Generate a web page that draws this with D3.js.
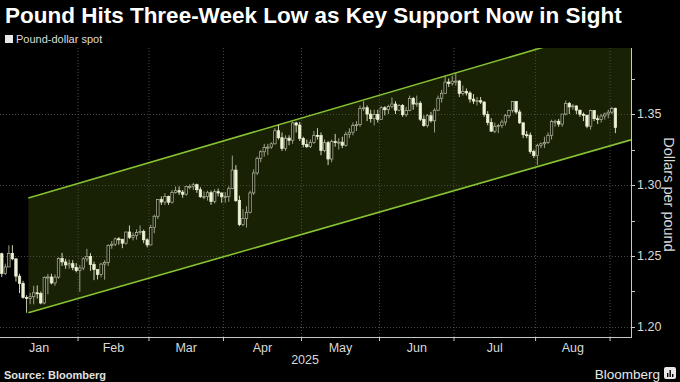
<!DOCTYPE html>
<html>
<head>
<meta charset="utf-8">
<script src="https://cdn.jsdelivr.net/npm/d3@7"></script>
<style>
  body { margin: 0; background: #000; }
  svg { display: block; }
  text { font-family: "Liberation Sans", Arial, sans-serif; }
</style>
</head>
<body>
<svg id="chart" width="680" height="382"></svg>
<script>
// ---- data (GBP/USD daily, Jan 2 – Sep 2 2025, weekdays) ----
const firstDay = "2025-01-02";
const lastDay = "2025-09-02";
const firstOpen = 1.2516;

const closes = [
  1.2376,1.2423,1.2518,1.2480,1.2358,1.2307,1.2208,1.2201,1.2213,1.2241,1.2236,1.2169,1.2350,1.2352,1.2310,1.2351,1.2483,1.2458,1.2437,1.2446,1.2420,1.2398,
  1.2415,1.2480,1.2497,1.2440,1.2404,1.2370,1.2443,1.2455,1.2575,1.2583,1.2621,1.2618,1.2590,1.2669,1.2632,1.2645,1.2666,1.2673,1.2614,1.2578,
  1.2700,1.2780,1.2897,1.2880,1.2918,1.2879,1.2947,1.2960,1.2950,1.2935,1.2990,1.2990,1.3002,1.2967,1.2917,1.2918,1.2946,1.2884,1.2953,1.2944,1.2917,
  1.2918,1.2974,1.3105,1.2890,1.2721,1.2765,1.2808,1.2944,1.3085,1.3188,1.3234,1.3264,1.3267,1.3290,1.3382,1.3333,1.3257,1.3330,1.3315,1.3437,1.3422,1.3328,
  1.3285,1.3270,1.3300,1.3350,1.3348,1.3243,1.3298,1.3183,1.3306,1.3299,1.3302,1.3280,1.3357,1.3372,1.3418,1.3425,1.3540,1.3544,1.3499,1.3467,1.3496,1.3462,
  1.3544,1.3530,1.3553,1.3570,1.3527,1.3560,1.3495,1.3525,1.3610,1.3570,1.3576,1.3463,1.3419,1.3488,1.3452,1.3527,1.3611,1.3646,1.3725,1.3715,1.3731,
  1.3732,1.3645,1.3658,1.3648,1.3605,1.3591,1.3594,1.3584,1.3497,1.3440,1.3379,1.3414,1.3418,1.3443,1.3488,1.3526,1.3589,1.3514,1.3438,1.3354,1.3351,1.3235,1.3207,
  1.3278,1.3290,1.3300,1.3350,1.3447,1.3449,1.3429,1.3500,1.3575,1.3550,1.3557,1.3527,1.3498,1.3492,1.3414,1.3524,1.3467,1.3462,1.3486,1.3500,1.3513,
  1.3540,1.3405
];
const highs = [
  1.2523,1.2446,1.2576,1.2576,1.2482,1.2375,1.2325,1.2224,1.2240,1.2290,1.2293,1.2250,1.2357,1.2374,1.2375,1.2370,1.2490,1.2522,1.2480,1.2475,1.2471,1.2450,
  1.2436,1.2491,1.2550,1.2520,1.2460,1.2404,1.2452,1.2470,1.2582,1.2605,1.2630,1.2633,1.2620,1.2670,1.2715,1.2665,1.2688,1.2715,1.2686,1.2625,
  1.2720,1.2790,1.2900,1.2920,1.2942,1.2925,1.2965,1.2990,1.2990,1.2965,1.2995,1.3005,1.3015,1.3010,1.2985,1.2955,1.2960,1.2960,1.2970,1.2975,1.2945,
  1.2950,1.2990,1.3207,1.3140,1.2925,1.2830,1.2850,1.2960,1.3110,1.3200,1.3245,1.3290,1.3290,1.3300,1.3400,1.3423,1.3370,1.3350,1.3350,1.3445,1.3445,1.3444,
  1.3340,1.3320,1.3320,1.3380,1.3400,1.3370,1.3320,1.3310,1.3320,1.3360,1.3330,1.3340,1.3375,1.3400,1.3440,1.3450,1.3560,1.3590,1.3560,1.3530,1.3530,1.3530,
  1.3555,1.3555,1.3565,1.3616,1.3590,1.3570,1.3570,1.3550,1.3630,1.3620,1.3630,1.3590,1.3490,1.3500,1.3515,1.3540,1.3630,1.3670,1.3770,1.3750,1.3770,
  1.3788,1.3740,1.3700,1.3680,1.3660,1.3640,1.3620,1.3620,1.3590,1.3520,1.3470,1.3440,1.3430,1.3460,1.3500,1.3530,1.3590,1.3590,1.3530,1.3440,1.3380,1.3370,1.3250,
  1.3290,1.3300,1.3340,1.3370,1.3460,1.3460,1.3465,1.3500,1.3595,1.3585,1.3570,1.3560,1.3530,1.3510,1.3490,1.3530,1.3525,1.3490,1.3500,1.3510,1.3530,
  1.3550,1.3545
];
const lows = [
  1.2352,1.2366,1.2425,1.2470,1.2320,1.2239,1.2200,1.2100,1.2160,1.2160,1.2200,1.2160,1.2160,1.2230,1.2300,1.2290,1.2340,1.2430,1.2410,1.2410,1.2400,1.2385,
  1.2249,1.2400,1.2460,1.2395,1.2330,1.2335,1.2350,1.2333,1.2430,1.2550,1.2570,1.2580,1.2555,1.2580,1.2620,1.2610,1.2615,1.2650,1.2590,1.2560,
  1.2575,1.2660,1.2760,1.2860,1.2860,1.2860,1.2870,1.2940,1.2930,1.2910,1.2925,1.2970,1.2965,1.2945,1.2910,1.2900,1.2890,1.2860,1.2870,1.2920,1.2875,
  1.2875,1.2880,1.2970,1.2880,1.2710,1.2710,1.2700,1.2800,1.2930,1.3070,1.3160,1.3200,1.3210,1.3255,1.3285,1.3320,1.3240,1.3240,1.3280,1.3290,1.3370,1.3310,
  1.3265,1.3260,1.3260,1.3290,1.3320,1.3210,1.3230,1.3140,1.3160,1.3270,1.3250,1.3260,1.3270,1.3330,1.3350,1.3380,1.3410,1.3520,1.3450,1.3440,1.3420,1.3440,
  1.3460,1.3490,1.3500,1.3540,1.3500,1.3520,1.3480,1.3480,1.3520,1.3530,1.3550,1.3450,1.3410,1.3405,1.3440,1.3370,1.3520,1.3580,1.3640,1.3690,1.3700,
  1.3700,1.3620,1.3630,1.3630,1.3580,1.3570,1.3560,1.3570,1.3480,1.3420,1.3375,1.3365,1.3365,1.3400,1.3420,1.3470,1.3510,1.3500,1.3430,1.3330,1.3330,1.3220,1.3190,
  1.3142,1.3260,1.3260,1.3290,1.3320,1.3410,1.3410,1.3410,1.3490,1.3500,1.3530,1.3500,1.3480,1.3450,1.3400,1.3390,1.3450,1.3430,1.3440,1.3460,1.3470,
  1.3500,1.3365
];

const monthLabels = ["Jan", "Feb", "Mar", "Apr", "May", "Jun", "Jul", "Aug"];
const yearLabel = "2025";
const yTicks = [1.20, 1.25, 1.30, 1.35];
const yMinorTicks = [1.225, 1.275, 1.325, 1.375];

// support / resistance channel, from Jan 13 to the right edge
const channelStart = "2025-01-13";
const channelLower = [1.2100, 1.3318];
const channelUpper = [1.2908, 1.4151];

// ---- build ----
const parse = d3.timeParse("%Y-%m-%d");
const fmt = d3.timeFormat("%Y-%m-%d");
const dates = d3.timeDay.range(parse(firstDay), d3.timeDay.offset(parse(lastDay), 1))
  .filter(d => d.getDay() !== 0 && d.getDay() !== 6);

const data = dates.map((d, i) => ({
  date: d,
  open: i === 0 ? firstOpen : closes[i - 1],
  close: closes[i],
  high: highs[i],
  low: lows[i]
}));

const plot = { left: 0, right: 631, top: 48, bottom: 337 };
const step = 3.547;

const svg = d3.select("#chart");

const x = d3.scaleBand()
  .domain(d3.range(data.length))
  .range([0, data.length * step])
  .paddingInner(0.3)
  .paddingOuter(0.15);
const xi = d3.scaleLinear().domain([0, data.length]).range([0, data.length * step]);

const y = d3.scaleLinear().domain([1.20, 1.35]).range([327, 114]);

// month boundaries: first trading day of each month
const monthStarts = [];
data.forEach((d, i) => {
  if (i > 0 && d.date.getMonth() !== data[i - 1].date.getMonth()) monthStarts.push(i);
});
const boundaries = [0, ...monthStarts];

svg.append("defs").append("clipPath").attr("id", "plotclip")
  .append("rect")
  .attr("x", plot.left).attr("y", plot.top)
  .attr("width", plot.right - plot.left).attr("height", plot.bottom - plot.top);

const g = svg.append("g").attr("clip-path", "url(#plotclip)");

// channel fill
const c0 = data.findIndex(d => fmt(d.date) === channelStart) + 1;
const cx0 = xi(c0), cx1 = plot.right;
g.append("path")
  .attr("d", `M${cx0},${y(channelLower[0])}L${cx1},${y(channelLower[1])}L${cx1},${y(channelUpper[1])}L${cx0},${y(channelUpper[0])}Z`)
  .attr("fill", "#192104");

// gridlines
g.selectAll(".vgrid").data(monthStarts).join("line")
  .attr("x1", i => xi(i)).attr("x2", i => xi(i))
  .attr("y1", plot.top).attr("y2", plot.bottom)
  .attr("stroke", "#4a4a44").attr("stroke-width", 1)
  .attr("stroke-dasharray", "1,2");
g.selectAll(".hgrid").data(yTicks).join("line")
  .attr("x1", plot.left).attr("x2", plot.right)
  .attr("y1", v => Math.round(y(v)) + 0.5).attr("y2", v => Math.round(y(v)) + 0.5)
  .attr("stroke", "#4a4a44").attr("stroke-width", 1)
  .attr("stroke-dasharray", "1,2");

// channel lines
[channelLower, channelUpper].forEach(c => {
  g.append("line")
    .attr("x1", cx0).attr("y1", y(c[0]))
    .attr("x2", cx1).attr("y2", y(c[1]))
    .attr("stroke", "#86c232").attr("stroke-width", 1.6);
});

// candles
const bw = x.bandwidth();
const candle = g.selectAll(".candle").data(data).join("g").attr("class", "candle");
candle.append("line")
  .attr("x1", (d, i) => x(i) + bw / 2).attr("x2", (d, i) => x(i) + bw / 2)
  .attr("y1", d => y(d.high)).attr("y2", d => y(d.low))
  .attr("stroke", d => d.close < d.open ? "#e4e9cc" : "#a9ae98")
  .attr("stroke-width", 0.9);
candle.append("rect")
  .attr("x", (d, i) => x(i)).attr("width", bw)
  .attr("y", d => y(Math.max(d.open, d.close)))
  .attr("height", d => Math.max(1, Math.abs(y(d.open) - y(d.close))))
  .attr("fill", d => d.close < d.open ? "#eef3d6" : "#141806")
  .attr("stroke", d => d.close < d.open ? "#eef3d6" : "#b4b9a2")
  .attr("stroke-width", 0.7);

// right axis
const axisColor = "#c8c8c8";
svg.append("line")
  .attr("x1", plot.right + 0.5).attr("x2", plot.right + 0.5)
  .attr("y1", plot.top).attr("y2", plot.bottom + 1)
  .attr("stroke", axisColor).attr("stroke-width", 1);
svg.selectAll(".ytick").data(yTicks.concat(yMinorTicks)).join("line")
  .attr("x1", plot.right).attr("x2", plot.right + 4)
  .attr("y1", v => Math.round(y(v)) + 0.5).attr("y2", v => Math.round(y(v)) + 0.5)
  .attr("stroke", axisColor);
svg.selectAll(".ylab").data(yTicks).join("text")
  .attr("x", plot.right + 6).attr("y", v => y(v))
  .attr("dy", "0.35em")
  .attr("fill", "#d8d8d8").attr("font-size", 12.5)
  .text(d3.format(".2f"));
svg.append("text")
  .attr("transform", `translate(664,${(plot.top + plot.bottom) / 2 + 2}) rotate(90)`)
  .attr("text-anchor", "middle")
  .attr("fill", "#d8d8d8").attr("font-size", 14.5)
  .text("Dollars per pound");

// bottom axis
svg.append("line")
  .attr("x1", plot.left).attr("x2", plot.right)
  .attr("y1", plot.bottom + 0.5).attr("y2", plot.bottom + 0.5)
  .attr("stroke", axisColor);
svg.selectAll(".xtick").data(monthStarts).join("line")
  .attr("x1", i => xi(i)).attr("x2", i => xi(i))
  .attr("y1", plot.bottom).attr("y2", plot.bottom + 4)
  .attr("stroke", axisColor);
svg.selectAll(".xlab").data(monthLabels).join("text")
  .attr("x", (m, k) => (xi(boundaries[k]) + xi(boundaries[k + 1])) / 2)
  .attr("y", 352)
  .attr("text-anchor", "middle")
  .attr("fill", "#d8d8d8").attr("font-size", 12.5)
  .text(m => m);
svg.append("text")
  .attr("x", xi(monthStarts[monthStarts.length - 1]) / 2)
  .attr("y", 364)
  .attr("text-anchor", "middle")
  .attr("fill", "#d8d8d8").attr("font-size", 12.5)
  .text(yearLabel);

// title
const title = svg.append("text")
  .attr("x", 5).attr("y", 23)
  .attr("fill", "#fff").attr("font-weight", "bold").attr("font-size", 20)
  .text("Pound Hits Three-Week Low as Key Support Now in Sight");
const tw = title.node().getComputedTextLength();
title.attr("font-size", 20 * 617 / tw);

// legend
svg.append("rect").attr("x", 5).attr("y", 35).attr("width", 8).attr("height", 8).attr("fill", "#e8e8e8");
svg.append("text").attr("x", 16).attr("y", 43)
  .attr("fill", "#dcdcdc").attr("font-size", 11)
  .text("Pound-dollar spot");

// footer
svg.append("text").attr("x", 4).attr("y", 379)
  .attr("fill", "#e0e0e0").attr("font-size", 11).attr("font-weight", "bold")
  .text("Source: Bloomberg");
svg.append("text").attr("x", 660).attr("y", 379)
  .attr("text-anchor", "end")
  .attr("fill", "#e8e8e8").attr("font-size", 13.5)
  .text("Bloomberg");
const logo = svg.append("g").attr("transform", "translate(664,367)");
logo.append("rect").attr("width", 12).attr("height", 12).attr("rx", 2).attr("fill", "#e8e8e8");
[[3, 6], [5.5, 3], [8, 7]].forEach(b => {
  logo.append("rect").attr("x", b[0]).attr("y", b[1]).attr("width", 1.4).attr("height", 10 - b[1])
    .attr("fill", "#000");
});
</script>
</body>
</html>
